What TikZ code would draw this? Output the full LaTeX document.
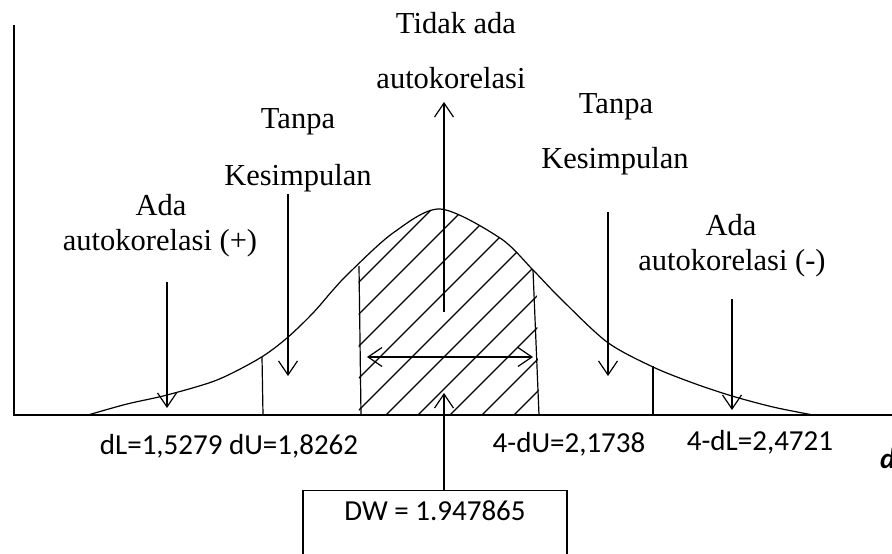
\documentclass[tikz,border=0pt]{standalone}
\usepackage{fontspec}
\setmainfont{Liberation Serif}
\newfontfamily\clb{Carlito}
\usetikzlibrary{arrows.meta}
\begin{document}
\begin{tikzpicture}[x=1pt,y=-1pt,
  ln/.style={line width=1.2pt},
  barb/.tip={Straight Barb[length=14pt,width=19pt]},
  arr/.style={ln,-barb},
  dbl/.style={ln,barb-barb},
  serif/.style={font=\fontsize{30.5}{36}\selectfont,anchor=base,inner sep=0pt},
  sans/.style={font=\clb\fontsize{29}{34}\selectfont,anchor=base,inner sep=0pt}]
\useasboundingbox (0,0) rectangle (892,554);
\clip (0,0) rectangle (892,554);
% axes
\coordinate (ytop) at (14,25);
\coordinate (orig) at (14,415);
\coordinate (xend) at (892,415);
\draw[ln] (ytop) -- (orig) -- (xend);
% hatching
\begin{scope}
  \clip (359,415) -- (358,150) -- (534,150) -- (539,415) -- cycle;
  \clip plot[smooth] coordinates {(88,415) (127,404) (167,395) (217,380) (260,358) (287,338) (313,313) (333,290) (350,272) (393,233) (440,209) (500,238) (533,270) (560,298) (607,342) (653,367) (693,383) (732,396) (773,407) (813,415)} -- cycle;
  \foreach \c in {641,673,705,737,769,801,833,865,897,929}
    \draw[ln] (\c-500,500) -- (\c-100,100);
\end{scope}
% bell curve
\draw[ln] plot[smooth] coordinates {(88,415) (127,404) (167,395) (217,380) (260,358) (287,338) (313,313) (333,290) (350,272) (393,233) (440,209) (500,238) (533,270) (560,298) (607,342) (653,367) (693,383) (732,396) (773,407) (813,415)};
% boundary lines
\coordinate (dLt) at (262,357); \coordinate (dLb) at (263,415);
\coordinate (dUt) at (359,266); \coordinate (dUb) at (361,415);
\coordinate (uUt) at (533,270); \coordinate (uUb) at (539,415);
\coordinate (uLt) at (653,366); \coordinate (uLb) at (653,415);
\draw[ln] (dLt) -- (dLb);
\draw[ln] (dUt) -- (dUb);
\draw[ln] (uUt) -- (uUb);
\draw[ln] (uLt) -- (uLb);
% texts
\node[serif] (t1) at (456,33) {Tidak ada};
\node[serif] (t2) at (451,88) {autokorelasi};
\node[serif] (t3) at (298,128) {Tanpa};
\node[serif] (t4) at (298,185) {Kesimpulan};
\node[serif] (t5) at (161,215) {Ada};
\node[serif] (t6) at (160,250) {autokorelasi (+)};
\node[serif] (t7) at (616,113) {Tanpa};
\node[serif] (t8) at (615,168) {Kesimpulan};
\node[serif] (t9) at (731,235) {Ada};
\node[serif] (t10) at (732,270) {autokorelasi (-)};
\node[sans] (l1) at (229,454) {dL=1,5279 dU=1,8262};
\node[sans] (l2) at (569,452) {4-dU=2,1738};
\node[sans] (l3) at (760,450) {4-dL=2,4721};
\node[sans,anchor=base west] (l4) at (880,468) {\bfseries\itshape d};
\node[draw,ln,minimum width=264pt,minimum height=100pt,anchor=north,inner sep=0pt] (dwbox) at (435,490) {};
\node[sans] (dw) at (435,520) {DW = 1.947865};
% arrows
\coordinate (a1s) at (167,282); \coordinate (a1e) at (167,408);
\coordinate (a2s) at (288,194); \coordinate (a2e) at (288,376);
\coordinate (a3s) at (444,312); \coordinate (a3e) at (444,102);
\coordinate (a4s) at (367,357); \coordinate (a4e) at (533,357);
\coordinate (a5s) at (608,212); \coordinate (a5e) at (608,376);
\coordinate (a6s) at (732,299); \coordinate (a6e) at (732,410);
\coordinate (a7s) at (444,490); \coordinate (a7e) at (444,393);
\draw[arr] (a1s) -- (a1e);
\draw[arr] (a2s) -- (a2e);
\draw[arr] (a3s) -- (a3e);
\draw[dbl] (a4s) -- (a4e);
\draw[arr] (a5s) -- (a5e);
\draw[arr] (a6s) -- (a6e);
\draw[arr] (a7s) -- (a7e);
\end{tikzpicture}
\end{document}
